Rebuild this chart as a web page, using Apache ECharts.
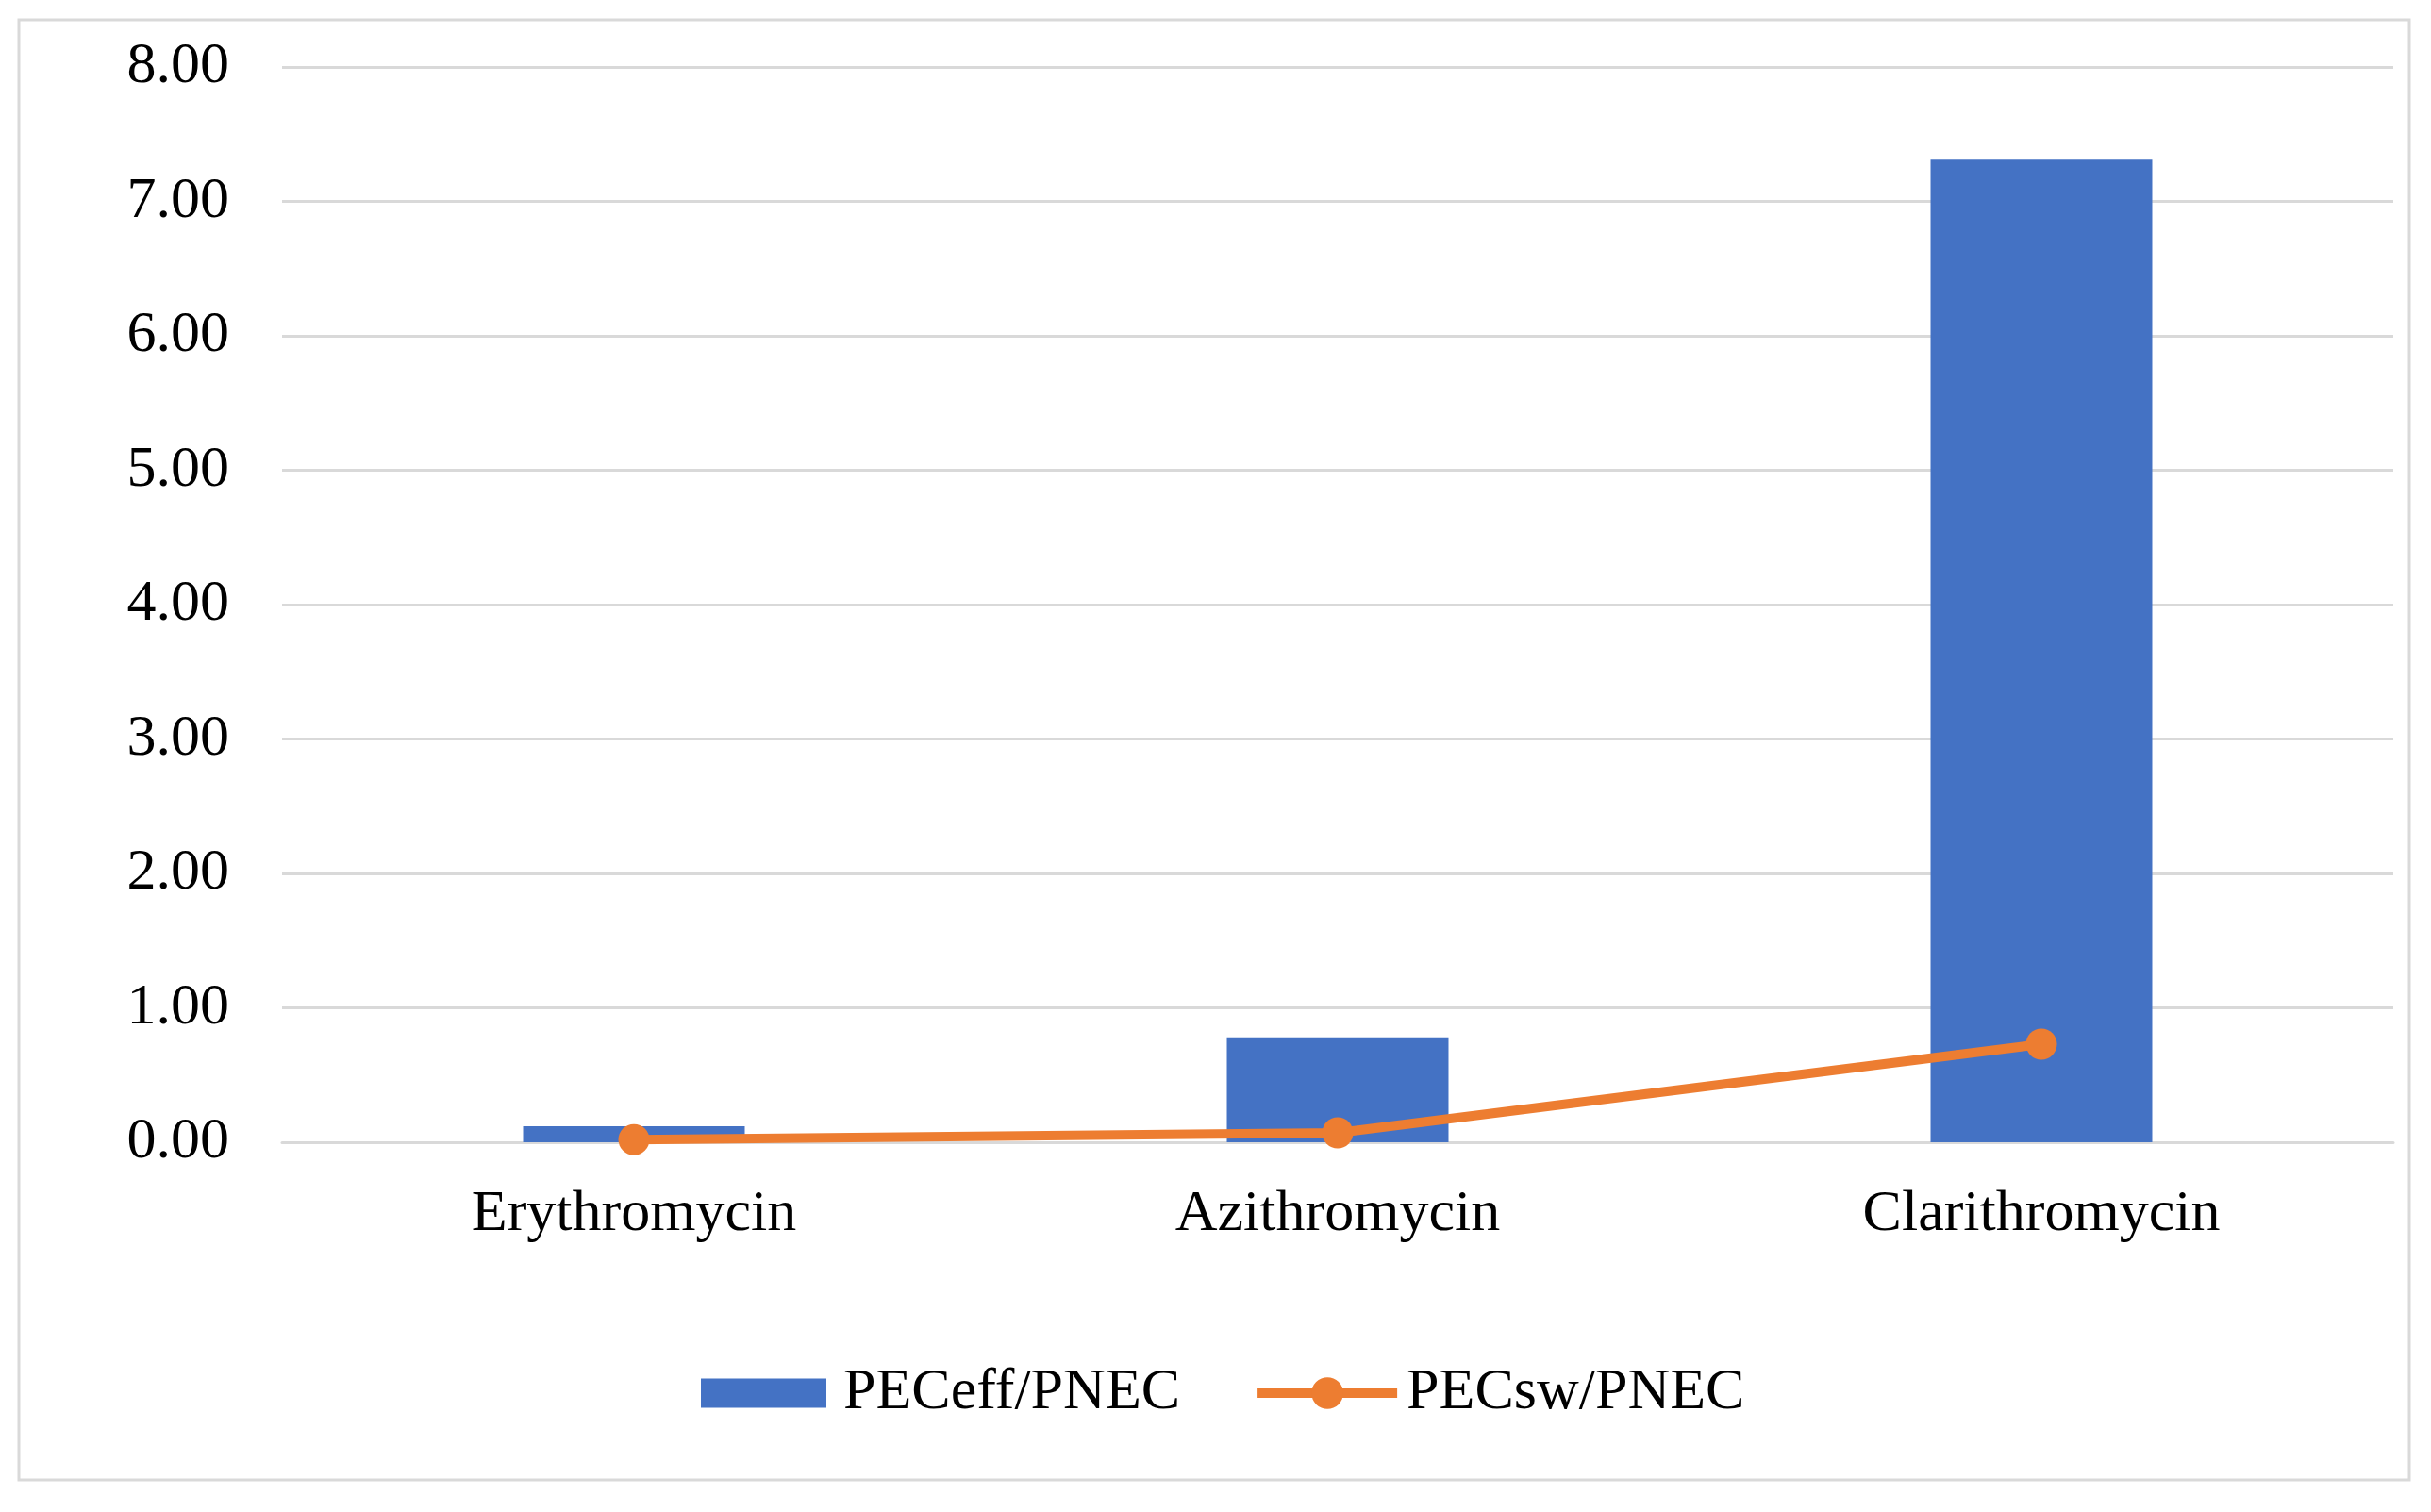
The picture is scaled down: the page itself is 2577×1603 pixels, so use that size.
<!DOCTYPE html>
<html>
<head>
<meta charset="utf-8">
<script src="https://cdn.jsdelivr.net/npm/echarts@6/dist/echarts.min.js"></script>
<style>
html,body{margin:0;padding:0;background:#fff;}
#chart{width:2577px;height:1603px;}
</style>
</head>
<body>
<div id="chart"></div>
<script>
const categories = ['Erythromycin', 'Azithromycin', 'Clarithromycin'];
const pecEff = [0.12, 0.78, 7.31];
const pecSw = [0.02, 0.07, 0.73];
const seriesNames = ['PECeff/PNEC', 'PECsw/PNEC'];

const chart = echarts.init(document.getElementById('chart'));
const font = 'Liberation Serif, Times New Roman, serif';
chart.setOption({
  backgroundColor: '#fff',
  animation: false,
  graphic: [{
    type: 'rect',
    shape: {x: 20, y: 21, width: 2534, height: 1548},
    style: {fill: 'none', stroke: '#d9d9d9', lineWidth: 3},
    silent: true
  }],
  grid: {left: 299, right: 40, top: 71, bottom: 392, containLabel: false},
  legend: {
    left: 731, top: 1441,
    itemWidth: 148, itemHeight: 42, itemGap: 77,
    symbolKeepAspect: true,
    textStyle: {fontFamily: font, fontSize: 62, color: '#000', padding: [0,0,0,5]},
    data: [
      {name: seriesNames[0], icon: 'path://M0,0M148,42M7,5.5h133v31h-133z'},
      {name: seriesNames[1], lineStyle: {width: 10, color: '#ED7D31'}}
    ]
  },
  xAxis: {
    type: 'category',
    data: categories,
    axisLine: {show: true, lineStyle: {color: '#d9d9d9', width: 3}},
    axisTick: {show: false},
    axisLabel: {fontFamily: font, fontSize: 62, color: '#000', margin: 46}
  },
  yAxis: {
    type: 'value',
    min: 0, max: 8, interval: 1,
    axisLine: {show: false},
    axisTick: {show: false},
    splitLine: {lineStyle: {color: '#d9d9d9', width: 3}},
    axisLabel: {fontFamily: font, fontSize: 62, color: '#000', margin: 56,
      formatter: v => v.toFixed(2)}
  },
  series: [
    {
      name: seriesNames[0], type: 'bar', data: pecEff, barWidth: '31.5%',
      itemStyle: {color: '#4472C4'}
    },
    {
      name: seriesNames[1], type: 'line', data: pecSw,
      symbol: 'circle', symbolSize: 33,
      lineStyle: {color: '#ED7D31', width: 10},
      itemStyle: {color: '#ED7D31'}
    }
  ]
});
</script>
</body>
</html>
